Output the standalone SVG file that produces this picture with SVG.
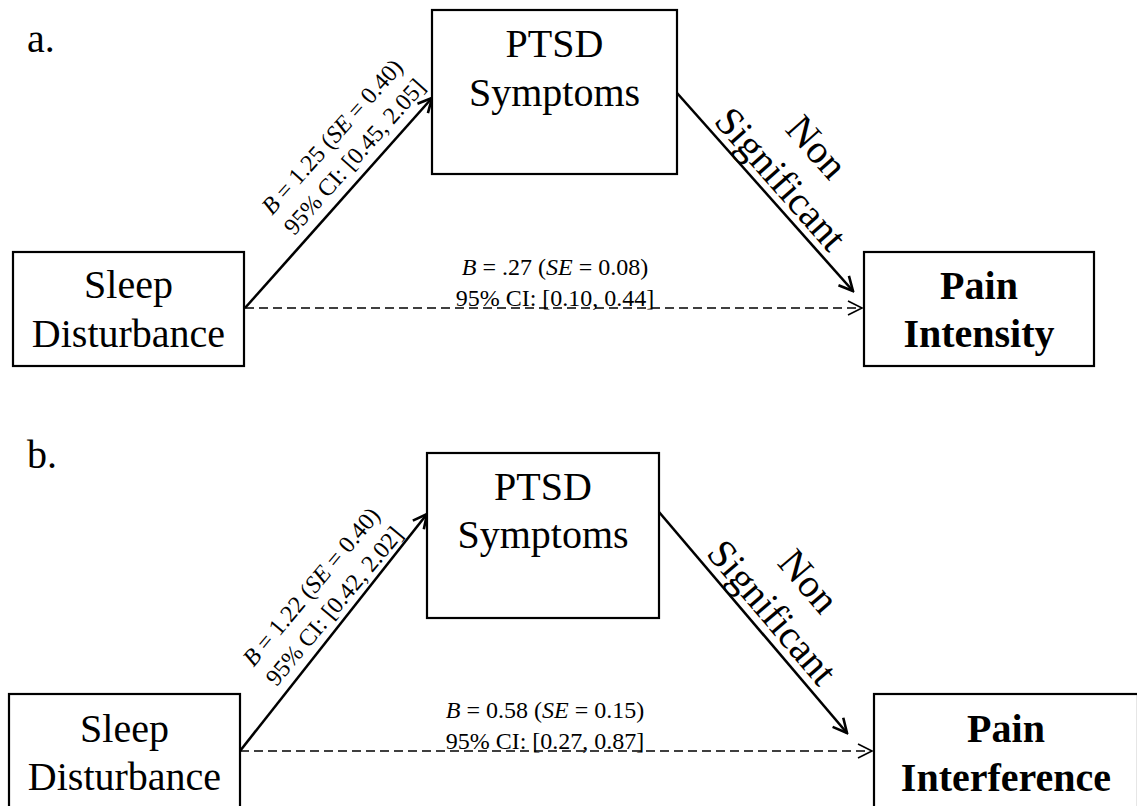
<svg xmlns="http://www.w3.org/2000/svg" width="1137" height="806" viewBox="0 0 1137 806">
<style>
.box{fill:#fff;stroke:#000;stroke-width:2.2}
.big{font-family:"Liberation Serif","Times New Roman",serif;font-size:40px;fill:#000;text-anchor:middle}
.bold{font-weight:bold}
.lab{font-family:"Liberation Serif","Times New Roman",serif;font-size:24px;fill:#000;text-anchor:middle}
.panel{font-family:"Liberation Serif","Times New Roman",serif;font-size:40px;fill:#000}
.solid{stroke:#000;stroke-width:2.6;fill:none;marker-end:url(#ah)}
.dash{stroke:#000;stroke-width:1.6;fill:none;stroke-dasharray:9 5;marker-end:url(#ahd)}
</style>
<defs>
<marker id="ah" markerUnits="userSpaceOnUse" viewBox="0 0 18 18" refX="16" refY="9" markerWidth="18" markerHeight="18" orient="auto">
<path d="M2,2 L16,9 L2,16" fill="none" stroke="#000" stroke-width="2.6"/>
</marker>
<marker id="ahd" markerUnits="userSpaceOnUse" viewBox="0 0 18 18" refX="16" refY="9" markerWidth="18" markerHeight="18" orient="auto">
<path d="M2,2 L16,9 L2,16" fill="none" stroke="#000" stroke-width="1.6"/>
</marker>
</defs>
<rect width="1137" height="806" fill="#fff"/>
<text class="panel" x="27" y="52">a.</text>
<text class="panel" x="27" y="468">b.</text>

<g id="connectors">
<line class="solid" x1="245" y1="308" x2="432" y2="98"/>
<line class="dash" x1="245" y1="308" x2="862" y2="308"/>
<line class="solid" x1="677" y1="93" x2="853" y2="291"/>
<line class="solid" x1="240" y1="751" x2="427" y2="514"/>
<line class="dash" x1="240" y1="751" x2="872" y2="751"/>
<line class="solid" x1="659" y1="512" x2="847" y2="733"/>
</g>

<g id="labels">
<g transform="translate(368.6,169.3) rotate(-48.3)">
<text class="lab" x="0" y="-41"><tspan font-style="italic">B</tspan> = 1.25 (<tspan font-style="italic">SE</tspan> = 0.40)</text>
<text class="lab" x="0" y="-11">95% CI: [0.45, 2.05]</text>
</g>
<text class="lab" x="555" y="275"><tspan font-style="italic">B</tspan> = .27 (<tspan font-style="italic">SE</tspan> = 0.08)</text>
<text class="lab" x="555" y="306">95% CI: [0.10, 0.44]</text>
<g transform="translate(765,193) rotate(48.5)">
<text class="big" x="0" y="-56">Non</text>
<text class="big" x="0" y="-8">Significant</text>
</g>
<g transform="translate(346.4,616.3) rotate(-50)">
<text class="lab" x="0" y="-38"><tspan font-style="italic">B</tspan> = 1.22 (<tspan font-style="italic">SE</tspan> = 0.40)</text>
<text class="lab" x="0" y="-8">95% CI: [0.42, 2.02]</text>
</g>
<text class="lab" x="545" y="718"><tspan font-style="italic">B</tspan> = 0.58 (<tspan font-style="italic">SE</tspan> = 0.15)</text>
<text class="lab" x="545" y="749">95% CI: [0.27, 0.87]</text>
<g transform="translate(756,626) rotate(49.6)">
<text class="big" x="0" y="-56">Non</text>
<text class="big" x="0" y="-8">Significant</text>
</g>
</g>

<g id="a-sleep">
<rect class="box" x="13" y="252" width="231" height="114"/>
<text class="big" x="128.5" y="298">Sleep</text>
<text class="big" x="128.5" y="347">Disturbance</text>
</g>
<g id="a-ptsd">
<rect class="box" x="432" y="10" width="245" height="164"/>
<text class="big" x="554.5" y="57">PTSD</text>
<text class="big" x="554.5" y="106">Symptoms</text>
</g>
<g id="a-pain">
<rect class="box" x="864" y="252" width="230" height="114"/>
<text class="big bold" x="979" y="299">Pain</text>
<text class="big bold" x="979" y="347">Intensity</text>
</g>
<g id="b-sleep">
<rect class="box" x="9" y="694" width="231" height="120"/>
<text class="big" x="124.5" y="742">Sleep</text>
<text class="big" x="124.5" y="790">Disturbance</text>
</g>
<g id="b-ptsd">
<rect class="box" x="427" y="453" width="232" height="165"/>
<text class="big" x="543" y="500">PTSD</text>
<text class="big" x="543" y="548">Symptoms</text>
</g>
<g id="b-pain">
<rect class="box" x="874" y="694" width="264" height="120"/>
<text class="big bold" x="1006" y="742">Pain</text>
<text class="big bold" x="1006" y="791">Interference</text>
</g>
</svg>
